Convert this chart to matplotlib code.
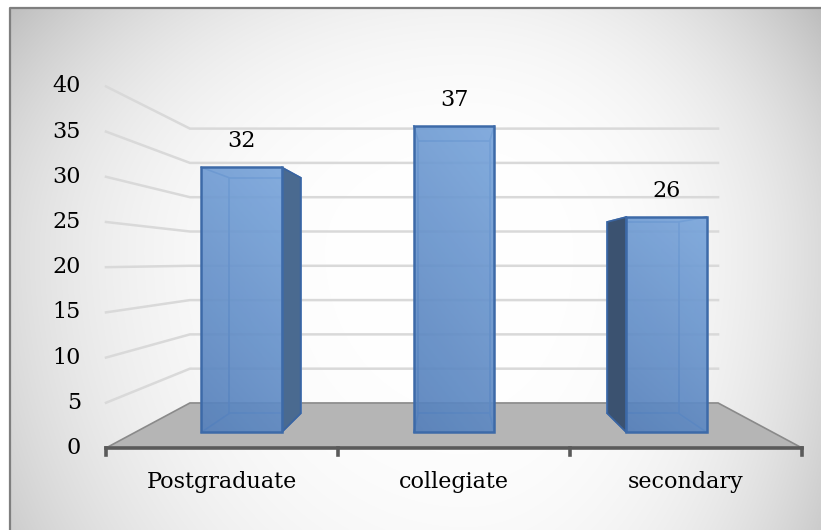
import numpy as np
import matplotlib.pyplot as plt
from matplotlib.patches import Polygon
from matplotlib.colors import to_rgb

# education level counts
categories = ['Postgraduate', 'collegiate', 'secondary']
counts = [32, 37, 26]
y_ticks = [0, 5, 10, 15, 20, 25, 30, 35, 40]

W, H = 821, 530

# simple perspective camera, everything below is in pixel space
VX, HORIZON = 454.0, 261.4   # vanishing point x and horizon y
EYE = 20.64                  # eye height in value units
FOCAL = 9.04                 # pixels per value unit on the front plane
DEPTH = 0.318                # extra distance of the back wall
HALF = 38.5                  # half width of the floor (value units)
BAR_HALF = 4.85              # half width of a bar
BAR_T = (0.29, 0.714)        # bar front / back depth


def proj(x, v, t):
    s = FOCAL / (1 + DEPTH * t)
    return VX + x * s, HORIZON + (EYE - v) * s


fig = plt.figure(figsize=(W / 100, H / 100), dpi=100)
fig.patch.set_facecolor('white')
ax = fig.add_axes([0, 0, 1, 1])
ax.set_xlim(0, W)
ax.set_ylim(H, 0)
ax.axis('off')

# grey background, white in the middle and darker towards the edges
gx, gy = np.meshgrid(np.arange(10, W), np.arange(8, H))
dx = (gx - 465) / np.where(gx < 465, 520, 400)
dy = (gy - 250) / np.where(gy < 250, 380, 600)
r = np.sqrt(dx ** 2 + dy ** 2)
shade = 1 - 0.2 * np.clip(r, 0, 1.1) ** 3
ax.imshow(np.dstack([shade] * 3), extent=[10, W, H, 8], origin='upper',
          aspect='auto', zorder=0)
ax.plot([10, 10, W], [H, 8, 8], color='#7f7f7f', lw=1.6, zorder=1)

# floor
floor = [proj(-HALF, 0, 0), proj(HALF, 0, 0), proj(HALF, 0, 1), proj(-HALF, 0, 1)]
ax.add_patch(Polygon(floor, closed=True, facecolor='#b5b5b5',
                     edgecolor='#8a8a8a', lw=1.2, zorder=1))

# gridlines on the side wall and the back wall
for v in y_ticks[1:]:
    x0, y0 = proj(-HALF, v, 0)
    x1, y1 = proj(-HALF, v, 1)
    x2, y2 = proj(HALF, v, 1)
    ax.plot([x0, x1, x2], [y0, y1, y2], color='#d9d9d9', lw=1.8,
            solid_joinstyle='miter', zorder=1)

# y tick labels
for v in y_ticks:
    x0, y0 = proj(-HALF, v, 0)
    ax.text(x0 - 25, y0, str(v), ha='right', va='center',
            family='DejaVu Serif', fontsize=16, color='black')

# front axis line and ticks
slot = 2 * HALF / len(categories)
xa, ya = proj(-HALF, 0, 0)
xb, _ = proj(HALF, 0, 0)
ax.plot([xa, xb], [ya, ya], color='#5a5a5a', lw=2.6, zorder=7)
for i in range(len(categories) + 1):
    xt, yt = proj(-HALF + i * slot, 0, 0)
    ax.plot([xt, xt], [yt, yt + 7], color='#5a5a5a', lw=2.6, zorder=7)


def gradient_face(poly, c_lo, c_hi, z, alpha):
    patch = Polygon(poly, closed=True, facecolor='none', edgecolor='none')
    ax.add_patch(patch)
    pts = np.array(poly)
    x0, x1 = pts[:, 0].min(), pts[:, 0].max()
    y0, y1 = pts[:, 1].min(), pts[:, 1].max()
    u = np.linspace(0, 1, 60)
    uu, vv = np.meshgrid(u, u)
    k = np.clip(0.75 * (1 - vv) + 0.25 * uu, 0, 1)[..., None]
    img = np.array(to_rgb(c_lo)) * (1 - k) + np.array(to_rgb(c_hi)) * k
    im = ax.imshow(img, extent=[x0, x1, y1, y0], origin='upper',
                   aspect='auto', zorder=z, alpha=alpha)
    im.set_clip_path(patch)


for i, (cat, val) in enumerate(zip(categories, counts)):
    cx = -HALF + (i + 0.5) * slot
    xl, xr = cx - BAR_HALF, cx + BAR_HALF
    tf, tb = BAR_T
    front = [proj(xl, 0, tf), proj(xr, 0, tf), proj(xr, val, tf), proj(xl, val, tf)]
    back = [proj(xl, 0, tb), proj(xr, 0, tb), proj(xr, val, tb), proj(xl, val, tb)]

    # hidden back edges, seen through the glassy front
    bx = [p[0] for p in back] + [back[0][0]]
    by = [p[1] for p in back] + [back[0][1]]
    ax.plot(bx, by, color='#4f7fbf', lw=1.2, zorder=3)
    for pf, pb in zip(front, back):
        ax.plot([pf[0], pb[0]], [pf[1], pb[1]], color='#4f7fbf', lw=1.2, zorder=3)

    # visible side face
    if cx < -1:
        side = [front[1], back[1], back[2], front[2]]
        ax.add_patch(Polygon(side, closed=True, facecolor='#4a6a90',
                             edgecolor='#3a64a0', lw=1.2, zorder=4))
    elif cx > 1:
        side = [front[0], back[0], back[3], front[3]]
        ax.add_patch(Polygon(side, closed=True, facecolor='#3b5270',
                             edgecolor='#3a64a0', lw=1.2, zorder=4))

    gradient_face(front, '#5580bb', '#79a5db', 5, 0.92)
    ax.add_patch(Polygon(front, closed=True, facecolor='none',
                         edgecolor='#3d6aa8', lw=1.8, zorder=6))

    # value label above the bar
    lx, ly = proj(cx, val, tf)
    ax.text(lx, ly - 26, str(val), ha='center', va='center',
            family='DejaVu Serif', fontsize=16, color='black', zorder=8)

    # category label under the axis
    tx, ty = proj(cx, 0, 0)
    ax.text(tx, ty + 34, cat, ha='center', va='center',
            family='DejaVu Serif', fontsize=16, color='black', zorder=8)

fig.savefig('out.png', dpi=100)
